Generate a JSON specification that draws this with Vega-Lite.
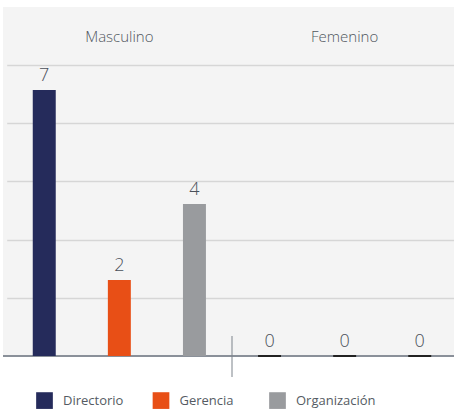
{
  "$schema": "https://vega.github.io/schema/vega-lite/v6.json",
  "width": 451,
  "height": 349,
  "autosize": {"type": "none"},
  "padding": {"left": 3, "top": 7, "right": 0, "bottom": 54},
  "background": "#ffffff",
  "config": {
    "view": {"fill": "#f4f4f4", "stroke": null},
    "font": "Open Sans"
  },
  "data": {
    "values": [
      {"genero": "Masculino", "cargo": "Directorio", "valor": 7},
      {"genero": "Masculino", "cargo": "Gerencia", "valor": 2},
      {"genero": "Masculino", "cargo": "Organización", "valor": 4},
      {"genero": "Femenino", "cargo": "Directorio", "valor": 0},
      {"genero": "Femenino", "cargo": "Gerencia", "valor": 0},
      {"genero": "Femenino", "cargo": "Organización", "valor": 0}
    ]
  },
  "layer": [
    {
      "data": {"values": [{"linea": "base"}]},
      "mark": {"type": "rule", "color": "#8a9099", "strokeWidth": 2},
      "encoding": {"y": {"datum": 0, "type": "quantitative", "scale": {"domain": [0, 9.184], "nice": false}}}
    },
    {
      "mark": {"type": "bar"},
      "encoding": {
        "x": {
          "field": "genero",
          "type": "nominal",
          "sort": ["Masculino", "Femenino"],
          "scale": {"domain": ["Masculino", "Femenino"], "range": [3.7, 454.3], "paddingInner": 0, "paddingOuter": 0},
          "axis": null
        },
        "xOffset": {
          "field": "cargo",
          "type": "nominal",
          "sort": ["Directorio", "Gerencia", "Organización"],
          "scale": {"paddingInner": 0.694, "paddingOuter": 0.347}
        },
        "y": {
          "field": "valor",
          "type": "quantitative",
          "scale": {"domain": [0, 9.184], "nice": false},
          "axis": {
            "values": [1.532, 3.064, 4.596, 6.128, 7.66],
            "grid": true,
            "gridColor": "#d6d6d6",
            "gridWidth": 1.5,
            "domain": false,
            "ticks": false,
            "labels": false,
            "title": null
          }
        },
        "color": {
          "field": "cargo",
          "type": "nominal",
          "sort": ["Directorio", "Gerencia", "Organización"],
          "scale": {
            "domain": ["Directorio", "Gerencia", "Organización"],
            "range": ["#252b5b", "#e84f16", "#999b9e"]
          },
          "legend": {
            "orient": "none",
            "legendX": 33,
            "legendY": 385,
            "columns": 3,
            "gridAlign": "all",
            "columnPadding": 9.5,
            "padding": 0,
            "title": null,
            "symbolType": "square",
            "symbolSize": 279,
            "symbolStrokeWidth": 0,
            "symbolOpacity": 1,
            "labelOffset": 10,
            "labelFontSize": 13,
            "labelColor": "#555b63",
            "labelFont": "Open Sans"
          }
        },
        "stroke": {
          "condition": {"test": "datum.valor == 0", "value": "#222222"},
          "value": null
        },
        "strokeWidth": {"value": 2}
      }
    },
    {
      "mark": {"type": "text", "baseline": "alphabetic", "dy": -9, "fontSize": 18, "color": "#4a505a", "fontWeight": 300},
      "encoding": {
        "x": {"field": "genero", "type": "nominal", "sort": ["Masculino", "Femenino"]},
        "xOffset": {
          "field": "cargo",
          "type": "nominal",
          "sort": ["Directorio", "Gerencia", "Organización"]
        },
        "y": {"field": "valor", "type": "quantitative"},
        "text": {"field": "valor", "type": "quantitative"}
      }
    },
    {
      "data": {"values": [{"genero": "Masculino"}, {"genero": "Femenino"}]},
      "mark": {"type": "text", "baseline": "alphabetic", "fontSize": 15, "color": "#50565e", "fontWeight": 300},
      "encoding": {
        "x": {"field": "genero", "type": "nominal", "sort": ["Masculino", "Femenino"]},
        "y": {"datum": 8.255},
        "text": {"field": "genero"}
      }
    },
    {
      "data": {"values": [{"genero": "Femenino"}]},
      "mark": {"type": "rule", "color": "#7d838b", "strokeWidth": 1},
      "encoding": {
        "x": {"field": "genero", "type": "nominal", "bandPosition": 0},
        "y": {"datum": 0.526},
        "y2": {"datum": -0.553}
      }
    }
  ]
}
